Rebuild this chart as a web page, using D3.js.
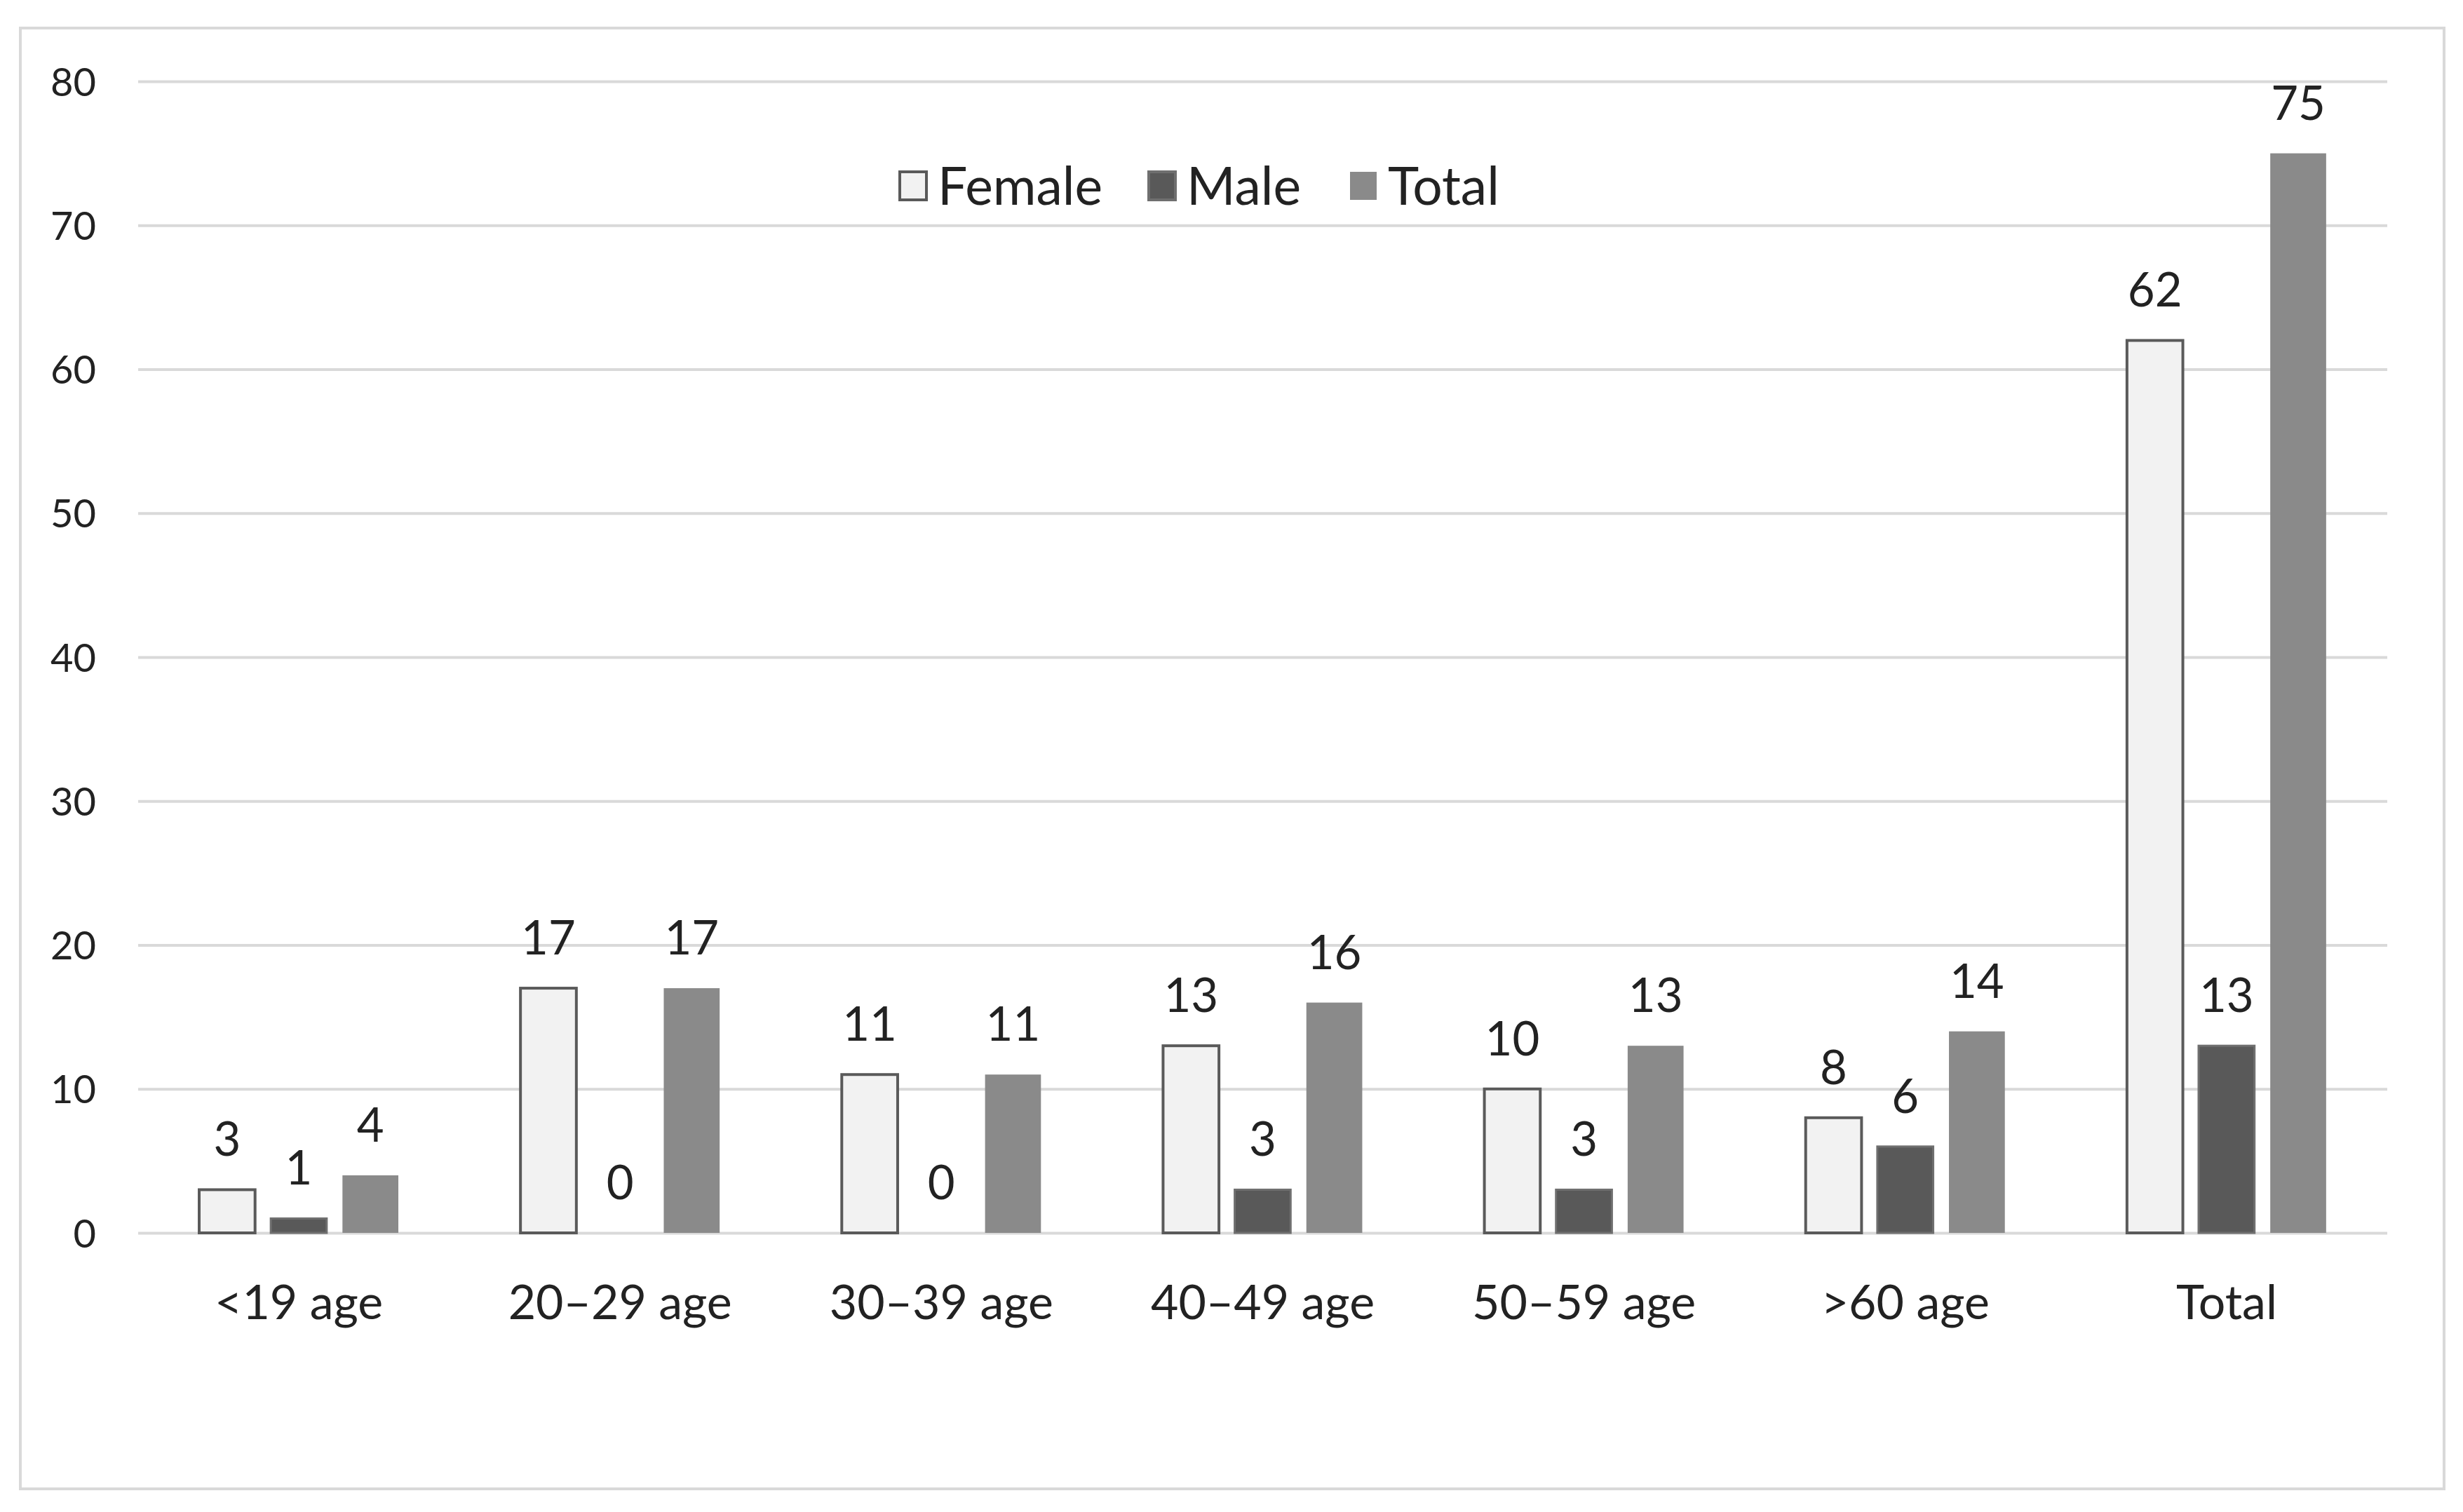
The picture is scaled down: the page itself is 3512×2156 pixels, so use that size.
<!DOCTYPE html>
<html>
<head>
<meta charset="utf-8">
<script src="https://cdnjs.cloudflare.com/ajax/libs/d3/7.8.5/d3.min.js"></script>
<style>
    body { margin: 0; background: #fff; }
    text { font-family: Lato, "Open Sans", sans-serif; fill: #222; }
</style>
</head>
<body>
<div class="chart"></div>
<script>
// DATA
const categories = ['<19 age', '20\u201329 age', '30\u201339 age', '40\u201349 age', '50\u201359 age', '>60 age', 'Total'];
const seriesNames = ['Female', 'Male', 'Total'];
const female = [3, 17, 11, 13, 10, 8, 62];
const male = [1, 0, 0, 3, 3, 6, 13];
const total = [4, 17, 11, 16, 13, 14, 75];
const yTicks = [0, 10, 20, 30, 40, 50, 60, 70, 80];

// STYLES FOR EACH SERIES
const fills = { 'Female': '#f2f2f2', 'Male': '#595959', 'Total': '#8a8a8a' };
const strokes = { 'Female': '#5a5a5a', 'Male': '#6f6f6f', 'Total': 'none' };

const width = 3512, height = 2156;
const plotLeft = 197, plotRight = 3404, plotTop = 116, plotBottom = 1758;

const svg = d3.select('.chart').append('svg')
    .attr('width', width)
    .attr('height', height);

// OUTER FRAME
svg.append('rect')
    .attr('x', 29).attr('y', 40)
    .attr('width', 3456).attr('height', 2083)
    .attr('fill', '#fff')
    .attr('stroke', '#d9d9d9')
    .attr('stroke-width', 4);

// SCALES
const y = d3.scaleLinear().domain([0, 80]).range([plotBottom, plotTop]);
const x0 = d3.scaleBand().domain(categories).range([plotLeft, plotRight]);
const x1 = d3.scaleBand().domain(seriesNames)
    .range([87, 371])
    .paddingInner(0.22);

// Y AXIS WITH GRIDLINES
const yAxis = svg.append('g')
    .attr('transform', 'translate(' + plotLeft + ',0)')
    .call(d3.axisLeft(y).tickValues(yTicks).tickSize(-(plotRight - plotLeft)).tickPadding(60));
yAxis.select('.domain').remove();
yAxis.selectAll('line').attr('stroke', '#d9d9d9').attr('stroke-width', 4);
yAxis.selectAll('text')
    .style('font-size', '56px')
    .attr('dy', '0.36em');

// X AXIS LABELS
const xAxis = svg.append('g')
    .attr('transform', 'translate(0,' + plotBottom + ')')
    .call(d3.axisBottom(x0).tickSize(0).tickPadding(0));
xAxis.select('.domain').remove();
xAxis.selectAll('text')
    .attr('y', 123)
    .attr('dy', 0)
    .style('font-size', '68px');

// BARS
const rows = categories.map(function (c, i) {
    return { category: c, values: [
        { name: 'Female', value: female[i] },
        { name: 'Male', value: male[i] },
        { name: 'Total', value: total[i] }
    ] };
});

const groups = svg.selectAll('.group')
    .data(rows)
    .enter().append('g')
    .attr('class', 'group')
    .attr('transform', function (d) { return 'translate(' + x0(d.category) + ',0)'; });

groups.selectAll('rect')
    .data(function (d) { return d.values.filter(function (v) { return v.value > 0; }); })
    .enter().append('rect')
    .attr('x', function (d) { return x1(d.name); })
    .attr('y', function (d) { return y(d.value); })
    .attr('width', x1.bandwidth())
    .attr('height', function (d) { return plotBottom - y(d.value); })
    .attr('fill', function (d) { return fills[d.name]; })
    .attr('stroke', function (d) { return strokes[d.name]; })
    .attr('stroke-width', function (d) { return d.name === 'Female' ? 4 : 3; });

// DATA LABELS
groups.selectAll('.label')
    .data(function (d) { return d.values; })
    .enter().append('text')
    .attr('class', 'label')
    .attr('x', function (d) { return x1(d.name) + x1.bandwidth() / 2; })
    .attr('y', function (d) { return y(d.value) - 48; })
    .attr('text-anchor', 'middle')
    .style('font-size', '67px')
    .text(function (d) { return d.value; });

// LEGEND
const legendX = [1281, 1636, 1923];
const legend = svg.selectAll('.legend')
    .data(seriesNames)
    .enter().append('g')
    .attr('class', 'legend')
    .attr('transform', function (d, i) { return 'translate(' + legendX[i] + ',265)'; });

legend.append('rect')
    .attr('x', 2).attr('y', -20)
    .attr('width', 38).attr('height', 40)
    .attr('fill', function (d) { return fills[d]; })
    .attr('stroke', function (d) { return strokes[d]; })
    .attr('stroke-width', 4);

legend.append('text')
    .attr('x', 56)
    .attr('y', 0)
    .attr('dy', '0.36em')
    .style('font-size', '75px')
    .text(function (d) { return d; });
</script>
</body>
</html>
